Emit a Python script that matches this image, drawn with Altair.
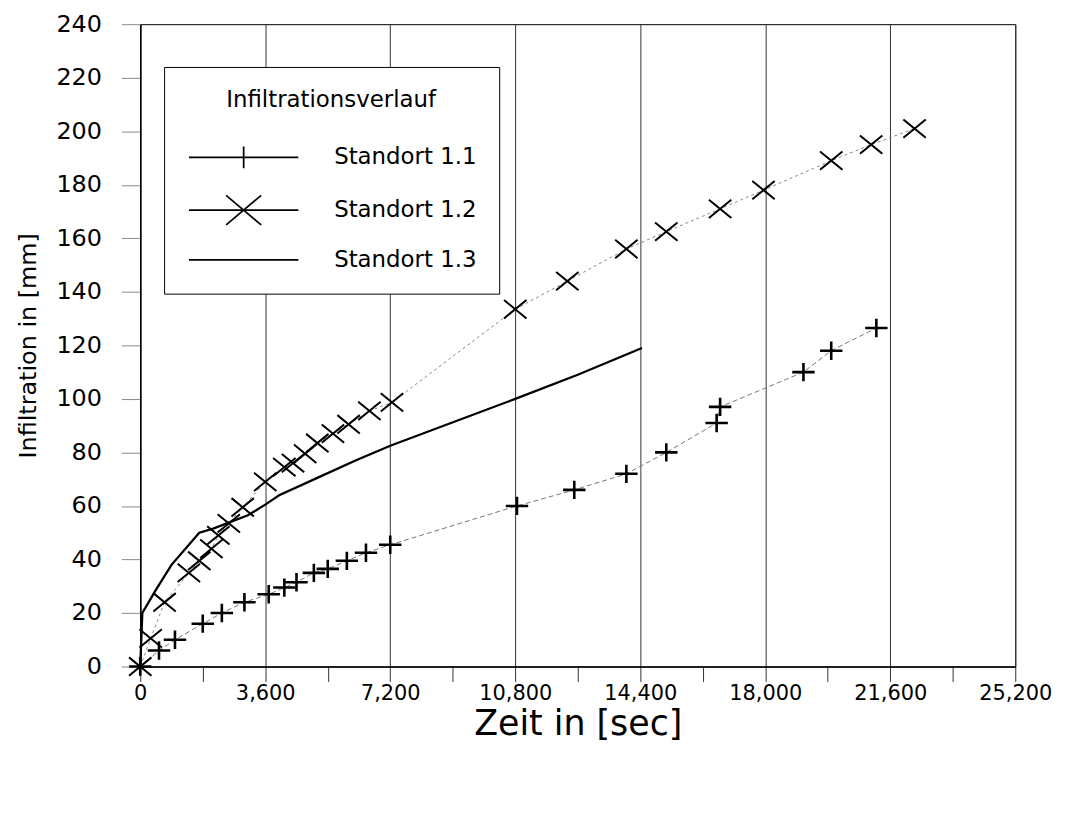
import altair as alt
import pandas as pd

# Standort 1.1 (+ markers)
t_11 = [0, 540, 1000, 1800, 2350, 3000, 3700, 4150, 4500, 5000, 5400, 5950, 6500, 7200,
        10850, 12500, 14000, 15150, 16600, 16700, 19100, 19900, 21200]
v_11 = [0, 6, 10, 16, 20, 24, 27, 29.5, 31.5, 35, 36.5, 39.5, 42.5, 45.5,
        60, 66, 72, 80, 91, 97, 110, 118, 126.5]

# Standort 1.2 (x markers)
t_12 = [0, 300, 700, 1400, 1700, 2050, 2250, 2550, 2950, 3600, 4150, 4400, 4750, 5100,
        5550, 6000, 6600, 7250, 10800, 12300, 14000, 15150, 16700, 17950, 19900, 21050, 22300]
v_12 = [0, 10.5, 24, 35, 39.5, 44, 49, 53.5, 59.5, 69, 74.5, 76, 79.5, 83.5,
        87, 90.5, 95.5, 98.7, 133.5, 144, 156, 162.5, 171, 178, 189, 195, 201]

# Standort 1.3 (solid line)
t_13 = [0, 60, 420, 900, 1700, 2100, 3100, 3600, 4000, 5100, 6200, 7200, 10800, 12600, 14450]
v_13 = [0, 20, 28, 38, 50, 51.5, 56.5, 60.5, 64, 70.5, 77, 82.5, 100, 109, 119]

series_names = ["Standort 1.1", "Standort 1.2", "Standort 1.3"]
x_ticks = list(range(0, 25201, 1800))
y_ticks = list(range(0, 241, 20))

df11 = pd.DataFrame({"t": t_11, "v": v_11, "s": series_names[0]})
df12 = pd.DataFrame({"t": t_12, "v": v_12, "s": series_names[1]})
df13 = pd.DataFrame({"t": t_13, "v": v_13, "s": series_names[2]})
df_all = pd.concat([df11, df12, df13], ignore_index=True)

FONT = "DejaVu Sans"

x_enc = alt.X(
    "t:Q",
    scale=alt.Scale(domain=[0, 25200], nice=False),
    axis=alt.Axis(
        values=x_ticks,
        labelExpr="datum.value % 3600 === 0 ? format(datum.value, ',') : ''",
        grid=True,
        gridColor="#333333",
        gridWidth=1,
        gridOpacity={"condition": {"test": "datum.value % 3600 === 0", "value": 1}, "value": 0},
        tickSize=15,
        tickWidth=1,
        tickColor="#333333",
        labelFontSize=21,
        labelPadding=1,
        labelOverlap=False,
        labelFlush=False,
        title="Zeit in [sec]",
        titleFontSize=35,
        titlePadding=3,
        domainWidth=1.5,
    ),
)
y_enc = alt.Y(
    "v:Q",
    scale=alt.Scale(domain=[0, 240], nice=False),
    axis=alt.Axis(
        values=y_ticks,
        grid=False,
        tickSize=19,
        tickWidth=1,
        labelFontSize=24,
        labelPadding=20,
        title="Infiltration in [mm]",
        titleFontSize=24,
        titlePadding=16,
        domainWidth=1.5,
    ),
)

line11 = alt.Chart(df11).mark_line(color="#777777", strokeWidth=1, strokeDash=[5, 3]).encode(x=x_enc, y=y_enc)
pts11 = alt.Chart(df11).mark_point(
    shape="M-1.1,0H1.1M0,-0.9V0.9", size=420, filled=False, color="black", strokeWidth=2.6, opacity=1
).encode(x=x_enc, y=y_enc)

line12 = alt.Chart(df12).mark_line(color="#888888", strokeWidth=1, strokeDash=[3, 3]).encode(x=x_enc, y=y_enc)
pts12 = alt.Chart(df12).mark_point(
    shape="M-1.1,-0.9L1.1,0.9M-1.1,0.9L1.1,-0.9", size=420, filled=False, color="black", strokeWidth=2, opacity=1
).encode(x=x_enc, y=y_enc)

line13 = alt.Chart(df13).mark_line(color="black", strokeWidth=2.3).encode(x=x_enc, y=y_enc)

legend_layer = alt.Chart(df_all).transform_filter("false").mark_point(
    filled=False, color="black", strokeWidth=1.6, opacity=1
).encode(
    x=x_enc,
    y=y_enc,
    shape=alt.Shape(
        "s:N",
        scale=alt.Scale(
            domain=series_names,
            range=[
                "M-5,0H5M0,-1V1",
                "M-5,0H5M-1.6,-1.35L1.6,1.35M-1.6,1.35L1.6,-1.35",
                "M-5,0H5",
            ],
        ),
        legend=alt.Legend(
            orient="none",
            legendX=24,
            legendY=43,
            title="Infiltrationsverlauf",
            titleFont=FONT,
            titleFontSize=23,
            titleFontWeight="normal",
            titleColor="black",
            titleAnchor="middle",
            titleLimit=500,
            titlePadding=34,
            labelFont=FONT,
            labelFontSize=23,
            labelLimit=400,
            labelColor="black",
            symbolSize=484,
            symbolStrokeWidth=1.7,
            symbolStrokeColor="black",
            symbolOffset=46,
            labelOffset=79,
            padding=22,
            rowPadding=19,
            strokeColor="black",
            fillColor="white",
        ),
    ),
)

chart = alt.layer(line11, line12, line13, pts11, pts12, legend_layer).properties(
    width=880,
    height=646,
    padding={"left": 133, "top": 14, "right": 45, "bottom": 140},
    autosize=alt.AutoSizeParams(type="none"),
).configure(font=FONT).configure_view(stroke="black", strokeWidth=1).configure_axis(
    domainColor="black", labelColor="black", titleColor="black", titleFontWeight="normal",
    labelFont=FONT, titleFont=FONT,
)

chart.save("out.html", embed_options={"renderer": "svg", "actions": False})
